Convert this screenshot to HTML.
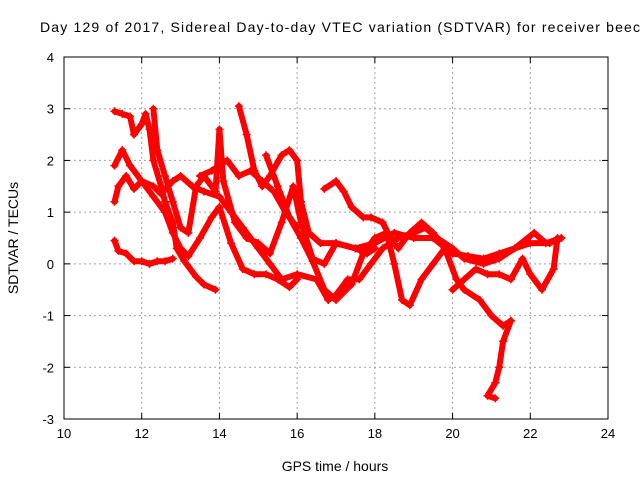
<!DOCTYPE html>
<html><head><meta charset="utf-8">
<style>
html,body{margin:0;padding:0;background:#fff;overflow:hidden;}
svg{display:block;font-family:"Liberation Sans",sans-serif;}
</style></head>
<body>
<svg id="chart" width="640" height="480" viewBox="0 0 640 480" xmlns="http://www.w3.org/2000/svg">
<rect width="640" height="480" fill="#fff"/>
<text x="40" y="32" font-size="14" textLength="600" lengthAdjust="spacing" fill="#000">Day 129 of 2017, Sidereal Day-to-day VTEC variation (SDTVAR) for receiver beec</text>
<g id="grid"></g>
<g id="series"></g>
<g id="axes"></g>
<text x="335" y="471" font-size="14" text-anchor="middle">GPS time / hours</text>
<text transform="translate(18,238) rotate(-90)" font-size="14" text-anchor="middle">SDTVAR / TECUs</text>
</svg>
<script>
const xTicks = [10,12,14,16,18,20,22,24];
const yTicks = [-3,-2,-1,0,1,2,3,4];
const traceA = [[11.3,0.45],[11.4,0.25],[11.6,0.2],[11.8,0.05],[12,0.05],[12.2,0.0],[12.4,0.05],[12.6,0.05],[12.8,0.1]];
const traceB = [[11.3,1.2],[11.4,1.5],[11.6,1.7],[11.8,1.45],[12,1.6],[12.3,1.5],[12.5,1.35],[12.8,1.6],[13.0,1.7],[13.3,1.5],[13.6,1.4],[14,1.3],[14.3,1.0],[14.6,0.7],[15,0.3],[15.3,0.0],[15.6,-0.3],[16,-0.2],[16.5,-0.3],[16.8,-0.7],[17,-0.6],[17.3,-0.3],[17.6,-0.3],[17.9,0.0],[18.2,0.3],[18.6,0.5],[19,0.6],[19.3,0.7],[19.6,0.5],[20,0.3],[20.3,0.1],[20.8,0.0],[21.2,0.1],[21.6,0.3],[22,0.4],[22.5,0.4],[22.8,0.5]];
const traceC = [[11.3,1.9],[11.5,2.2],[11.7,1.9],[12,1.6],[12.3,1.3],[12.6,1.0],[12.8,0.6],[13,0.3],[13.2,0.15],[13.5,0.5],[13.8,0.9],[14.0,1.1],[14.3,0.4],[14.6,-0.1],[14.9,-0.2],[15.2,-0.2],[15.5,-0.3],[15.8,-0.45],[16.0,-0.3]];
const traceD = [[11.3,2.95],[11.5,2.9],[11.7,2.85],[11.8,2.5],[12,2.7],[12.1,2.9],[12.2,2.6],[12.3,2.0],[12.5,1.5],[12.6,1.2],[12.8,0.8],[12.9,0.3],[13.1,0.05],[13.4,-0.25],[13.6,-0.4],[13.9,-0.5]];
const traceE = [[12.3,3.0],[12.4,2.2],[12.6,1.7],[12.8,1.2],[13.0,0.7],[13.2,0.6],[13.4,1.5],[13.6,1.7],[13.9,1.4],[14.0,2.6],[14.1,1.6],[14.4,0.8],[14.7,0.5],[15.0,0.4],[15.3,0.2],[15.6,0.8],[15.9,1.5],[16.1,0.8],[16.4,0.1],[16.7,0.0],[17.0,0.4],[17.5,0.3],[18,0.4],[18.5,0.6],[19,0.5],[19.5,0.5],[20,0.2]];
const traceF = [[14.5,3.05],[14.7,2.5],[14.9,1.8],[15.1,1.5],[15.3,1.7],[15.6,2.1],[15.8,2.2],[16,2.0],[16.1,1.2],[16.3,0.6],[16.6,0.4],[17,0.4],[17.5,0.3],[17.8,0.2],[18,0.3]];
const traceG = [[16.7,1.45],[17,1.6],[17.2,1.4],[17.4,1.1],[17.7,0.9],[17.9,0.9],[18.2,0.8],[18.4,0.5],[18.6,0.3],[18.9,0.6],[19.2,0.8],[19.5,0.6],[19.8,0.3],[20.1,-0.3],[20.3,-0.5],[20.7,-0.7],[21,-1.0],[21.3,-1.2],[21.5,-1.1]];
const traceH = [[21.5,-1.1],[21.3,-1.5],[21.2,-2.0],[21.1,-2.3],[20.9,-2.55],[21.1,-2.6]];
const traceI = [[15.2,2.1],[15.5,1.5],[15.8,0.9],[16.1,0.5],[16.4,0.05],[16.7,-0.5],[17,-0.7],[17.4,-0.4],[17.7,0.2],[18,0.5],[18.3,0.6],[18.5,0.0],[18.7,-0.7],[18.9,-0.8],[19.2,-0.3],[19.5,0.0],[19.8,0.3]];
const traceJ = [[20.0,-0.5],[20.3,-0.3],[20.6,-0.1],[20.9,-0.2],[21.2,-0.2],[21.5,-0.3],[21.8,0.1],[22,-0.2],[22.3,-0.5],[22.6,-0.1],[22.7,0.5]];
const traceK = [[20,0.2],[20.4,0.15],[20.8,0.1],[21.2,0.2],[21.6,0.3],[22.1,0.6],[22.4,0.4],[22.8,0.5]];
const traceL = [[13.5,1.7],[13.8,1.8],[14.2,2.0],[14.5,1.7],[14.8,1.8],[15.1,1.6],[15.4,1.4],[15.7,1.0],[16,0.7]];
const traces = [traceA,traceB,traceC,traceD,traceE,traceF,traceG,traceH,traceI,traceJ,traceK,traceL];

const X0=64, X1=608, Y0=419, Y1=57;
const xMin=10, xMax=24, yMin=-3, yMax=4;
function sx(v){return X0+(v-xMin)/(xMax-xMin)*(X1-X0);}
function sy(v){return Y0-(v-yMin)/(yMax-yMin)*(Y0-Y1);}
const NS="http://www.w3.org/2000/svg";
function mk(tag,attrs,parent){const e=document.createElementNS(NS,tag);for(const k in attrs)e.setAttribute(k,attrs[k]);parent.appendChild(e);return e;}
const grid=document.getElementById('grid'), axes=document.getElementById('axes'), ser=document.getElementById('series');
xTicks.forEach(t=>{
  const x=sx(t);
  if(t>xMin&&t<xMax){const g=mk('line',{x1:x,x2:x,y1:Y1,y2:Y0,stroke:'#a0a0a0','stroke-dasharray':'2,3'},grid);
  
  }
  const tk=mk('line',{x1:x,x2:x,y1:Y0,y2:Y0-6,stroke:'#000'},axes);
  
  
  const tk2=mk('line',{x1:x,x2:x,y1:Y1,y2:Y1+6,stroke:'#000'},axes);
  
  
  const lb=mk('text',{x:x,y:Y0+19,'font-size':13,'text-anchor':'middle'},axes);
  lb.textContent=t;
  
  
});
yTicks.forEach(t=>{
  const y=sy(t);
  if(t>yMin&&t<yMax){const g=mk('line',{x1:X0,x2:X1,y1:y,y2:y,stroke:'#a0a0a0','stroke-dasharray':'2,3'},grid);
  
  }
  const tk=mk('line',{x1:X0,x2:X0+6,y1:y,y2:y,stroke:'#000'},axes);
  
  
  const tk2=mk('line',{x1:X1,x2:X1-6,y1:y,y2:y,stroke:'#000'},axes);
  
  
  const lb=mk('text',{x:X0-10,y:y+5,'font-size':13,'text-anchor':'end'},axes);
  lb.textContent=t;
  
  
});
const frame=mk('rect',{x:X0,y:Y1,width:X1-X0,height:Y0-Y1,fill:'none',stroke:'#000'},axes);


traces.forEach((tr)=>{
  const pl=mk('polyline',{points:tr.map(p=>sx(p[0])+','+sy(p[1])).join(' '),fill:'none',stroke:'#ff0000','stroke-width':6,'stroke-linejoin':'round','stroke-linecap':'round'},ser);
  
  
  tr.forEach(p=>{
    const x=sx(p[0]),y=sy(p[1]);
    const m=mk('path',{d:`M${x-4},${y}H${x+4}M${x},${y-4}V${y+4}`,stroke:'#ff0000','stroke-width':1.5},ser);
    
    
  });
});
</script>
</body></html>
